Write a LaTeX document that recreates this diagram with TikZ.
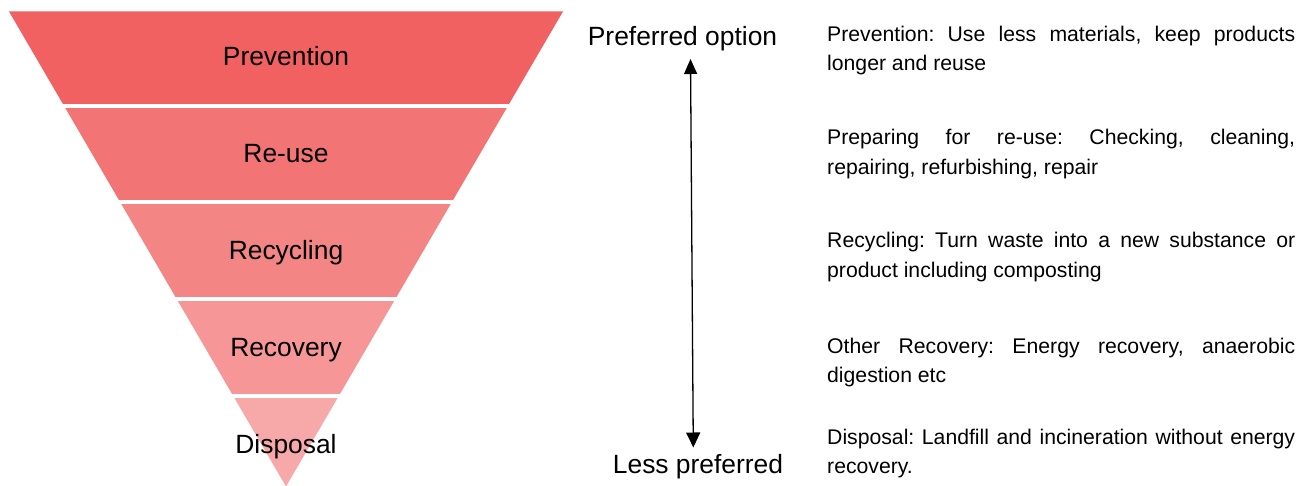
\documentclass[tikz,border=0pt]{standalone}
\usepackage{fontspec}
\setmainfont{Liberation Sans}
\usepackage{xcolor}
\usepackage{tikz}
\usetikzlibrary{arrows.meta}
\definecolor{bandprev}{HTML}{F26161}
\definecolor{bandreuse}{HTML}{F37474}
\definecolor{bandrecyc}{HTML}{F48585}
\definecolor{bandrecov}{HTML}{F69696}
\definecolor{banddisp}{HTML}{F7A8A8}
\hyphenpenalty=10000
\exhyphenpenalty=10000
\frenchspacing

\tikzset{
  bandlabel/.style={anchor=base, inner sep=0pt, font=\fontsize{26.4}{30}\selectfont},
  desctext/.style={anchor=base west, inner sep=0pt, text width=468pt, align=justify,
                   font=\fontsize{21.2}{29.3}\selectfont},
}

\begin{document}
\begin{tikzpicture}[x=1pt, y=-1pt]
  \useasboundingbox (0,0) rectangle (1301,486);

  % the inverted pyramid, cut into five bands
  \begin{scope}
    \clip (9,11.5) -- (563,11.5) -- (286,486.5) -- cycle;
    \foreach \c [count=\i from 0] in {bandprev,bandreuse,bandrecyc,bandrecov,banddisp}
      \fill[\c] (0,11.5+96.5*\i) rectangle (600,104+96.5*\i);
  \end{scope}

  \node[bandlabel] (prevention) at (286,65.7) {Prevention};
  \node[bandlabel] (reuse)      at (286,162.7) {Re-use};
  \node[bandlabel] (recycling)  at (286,259.3) {Recycling};
  \node[bandlabel] (recovery)   at (286,356.7) {Recovery};
  \node[bandlabel] (disposal)   at (286,453.3) {Disposal};

  % preference scale
  \node[bandlabel] (preferred) at (682.5,46) {Preferred option};
  \node[bandlabel] (lesspref)  at (698,473) {Less preferred};
  \coordinate (scaletop) at (690.5,59);
  \coordinate (scalebot) at (693.3,447.5);
  \draw[line width=1.3pt, {Triangle[length=15pt,width=13pt]}-{Triangle[length=15pt,width=14pt]}]
    (scaletop) -- (scalebot);

  % explanations
  \node[desctext] (descprev) at (827,41.7)
    {Prevention: Use less materials, keep products longer and reuse};
  \node[desctext] (descreuse) at (827,145)
    {Preparing for re-use: Checking, cleaning, repairing, refurbishing, repair};
  \node[desctext] (descrecyc) at (827,248)
    {Recycling: Turn waste into a new substance or product including composting};
  \node[desctext] (descrecov) at (827,353)
    {Other Recovery: Energy recovery, anaerobic digestion etc};
  \node[desctext] (descdisp) at (827,444)
    {Disposal: Landfill and incineration without energy recovery.};
\end{tikzpicture}
\end{document}
